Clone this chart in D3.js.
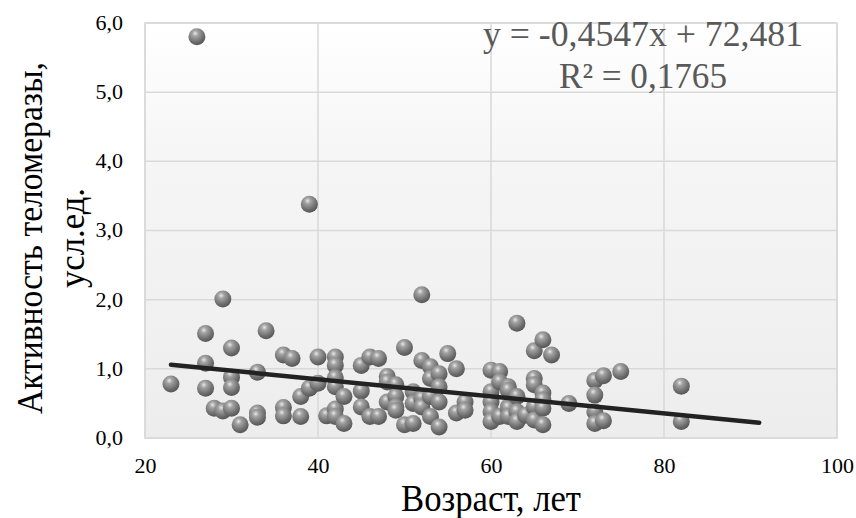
<!DOCTYPE html>
<html lang="ru">
<head>
  <meta charset="UTF-8">
  <title>Активность теломеразы</title>
  <script src="https://d3js.org/d3.v7.min.js"></script>
  <style>
    body { margin: 0; background: #fff; }
    svg text { font-family: "Liberation Serif", "Times New Roman", serif; }
  </style>
</head>
<body>
  <svg width="856" height="518"></svg>
  <script>
    // age (years) and telomerase activity (arb. units)
    const ages = [23,26,27,27,27,28,29,29,30,30,30,30,31,33,33,33,34,36,36,36,37,38,38,39,39,40,40,41,
      42,42,42,42,42,42,43,43,45,45,45,46,46,47,47,48,48,48,49,49,49,49,50,50,51,51,51,52,52,52,52,
      53,53,53,53,54,54,54,54,55,56,56,57,57,60,60,60,60,60,61,61,61,62,62,62,62,62,63,63,63,63,64,
      65,65,65,65,65,66,66,66,66,66,67,69,72,72,72,72,73,73,75,82,82];
    const activity = [0.78,5.8,1.51,1.08,0.72,0.43,2.01,0.39,1.3,0.88,0.73,0.43,0.19,0.95,0.36,0.3,1.55,1.2,0.44,0.32,1.15,0.6,0.31,3.38,0.72,1.17,0.79,0.32,
      1.17,1.05,0.87,0.74,0.42,0.31,0.6,0.21,1.05,0.68,0.45,1.17,0.31,1.15,0.31,0.89,0.81,0.52,0.77,0.6,0.45,0.4,1.31,0.19,0.67,0.5,0.21,2.07,1.12,0.57,0.45,
      1.03,0.86,0.6,0.31,0.93,0.74,0.52,0.16,1.22,1.0,0.36,0.52,0.4,0.98,0.67,0.52,0.38,0.24,0.96,0.81,0.31,0.74,0.69,0.45,0.43,0.31,1.66,0.6,0.38,0.24,0.33,
      1.26,0.86,0.77,0.45,0.26,1.42,0.65,0.55,0.43,0.19,1.2,0.5,0.83,0.62,0.38,0.21,0.9,0.25,0.96,0.75,0.24];
    const trendX = [23, 91];
    const trendY = [1.06, 0.22];
    const xTicks = [20, 40, 60, 80, 100];
    const yTicks = [0, 1, 2, 3, 4, 5, 6];
    const equation = ["y = -0,4547x + 72,481", "R² = 0,1765"];

    const svg = d3.select("svg");
    const m = { left: 145, right: 837, top: 23, bottom: 438 };
    const x = d3.scaleLinear().domain([20, 100]).range([m.left, m.right]);
    const y = d3.scaleLinear().domain([0, 6]).range([m.bottom, m.top]);
    const fmt = v => d3.format(".1f")(v).replace(".", ",");

    const defs = svg.append("defs");
    const bg = defs.append("linearGradient").attr("id", "bg").attr("x1", 0).attr("y1", 0).attr("x2", 0).attr("y2", 1);
    bg.append("stop").attr("offset", "0%").attr("stop-color", "#ffffff");
    bg.append("stop").attr("offset", "35%").attr("stop-color", "#f5f5f5");
    bg.append("stop").attr("offset", "100%").attr("stop-color", "#ededed");
    const ball = defs.append("radialGradient").attr("id", "ball")
      .attr("cx", "40%").attr("cy", "30%").attr("r", "70%");
    ball.append("stop").attr("offset", "0%").attr("stop-color", "#e8e8e8");
    ball.append("stop").attr("offset", "25%").attr("stop-color", "#a3a3a3");
    ball.append("stop").attr("offset", "75%").attr("stop-color", "#6c6c6c");
    ball.append("stop").attr("offset", "100%").attr("stop-color", "#565656");

    svg.append("rect")
      .attr("x", m.left).attr("y", m.top)
      .attr("width", m.right - m.left).attr("height", m.bottom - m.top)
      .attr("fill", "url(#bg)").attr("stroke", "#d9d9d9").attr("stroke-width", 1.5);

    // grid
    const grid = svg.append("g").attr("stroke", "#d9d9d9").attr("stroke-width", 1.5);
    grid.selectAll("line.h").data(yTicks).enter().append("line").attr("class", "h")
      .attr("x1", m.left).attr("x2", m.right)
      .attr("y1", d => y(d)).attr("y2", d => y(d));
    grid.selectAll("line.v").data(xTicks).enter().append("line").attr("class", "v")
      .attr("y1", m.top).attr("y2", m.bottom)
      .attr("x1", d => x(d)).attr("x2", d => x(d));

    // axes
    const xAxis = svg.append("g").attr("transform", `translate(0,${m.bottom})`)
      .call(d3.axisBottom(x).tickValues(xTicks).tickSize(0).tickPadding(21));
    const yAxis = svg.append("g").attr("transform", `translate(${m.left},0)`)
      .call(d3.axisLeft(y).tickValues(yTicks).tickFormat(fmt).tickSize(0).tickPadding(22));
    [xAxis, yAxis].forEach(a => {
      a.select(".domain").remove();
      a.attr("font-family", null).attr("font-size", null);
      a.selectAll("text")
        .style("font-family", "'Liberation Serif', 'Times New Roman', serif")
        .style("font-size", "20px").attr("fill", "#000")
        .each(function () {
          const w = this.getComputedTextLength();
          d3.select(this).attr("textLength", w * 1.1).attr("lengthAdjust", "spacingAndGlyphs");
        });
    });

    // points
    const pts = ages.map((a, i) => ({ a: a, v: activity[i] }));
    svg.append("g").selectAll("circle").data(pts).enter().append("circle")
      .attr("cx", d => x(d.a)).attr("cy", d => y(d.v)).attr("r", 8.5)
      .attr("fill", "url(#ball)");

    // trendline
    svg.append("line")
      .attr("x1", x(trendX[0])).attr("y1", y(trendY[0]))
      .attr("x2", x(trendX[1])).attr("y2", y(trendY[1]))
      .attr("stroke", "#222").attr("stroke-width", 4.5).attr("stroke-linecap", "round");

    // equation
    const eqLen = [320, 168];
    svg.append("g").selectAll("text").data(equation).enter().append("text")
      .attr("x", 643).attr("y", (d, i) => 46 + i * 42)
      .attr("text-anchor", "middle").style("font-size", "35px").attr("fill", "#595959")
      .attr("textLength", (d, i) => eqLen[i]).attr("lengthAdjust", "spacingAndGlyphs")
      .text(d => d);

    // titles
    svg.append("text").attr("x", 491).attr("y", 511).attr("text-anchor", "middle")
      .style("font-size", "37px").attr("fill", "#000")
      .attr("textLength", 180).attr("lengthAdjust", "spacingAndGlyphs")
      .text("Возраст, лет");
    const yt = svg.append("g").attr("transform", "translate(42,238) rotate(-90)");
    yt.append("text").attr("text-anchor", "middle").style("font-size", "35px")
      .attr("textLength", 352).attr("lengthAdjust", "spacingAndGlyphs")
      .text("Активность теломеразы,");
    yt.append("text").attr("text-anchor", "middle").attr("y", 42).style("font-size", "35px")
      .attr("textLength", 100).attr("lengthAdjust", "spacingAndGlyphs")
      .text("усл.ед.");
  </script>
</body>
</html>
